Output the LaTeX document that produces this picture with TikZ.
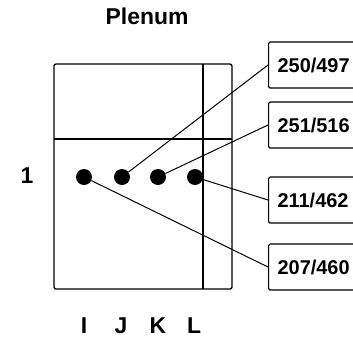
\documentclass[tikz,border=0pt]{standalone}
\usepackage{fontspec}
\setmainfont{Liberation Sans}
\usepackage{tikz}
\usetikzlibrary{positioning}

\begin{document}
\begin{tikzpicture}[
    x=1bp, y=-1bp,
    frame/.style={line width=1.3bp},
    dot/.style={
      circle, fill=black, inner sep=0pt, minimum size=16bp
    },
    valbox/.style={
      draw, line width=1.2bp, rounded corners=1.5pt, anchor=west,
      minimum height=46bp, text width=92bp, inner xsep=9bp,
      align=left, font=\fontsize{20}{22}\selectfont\bfseries
    },
    axislbl/.style={
      font=\fontsize{23}{26}\selectfont\bfseries
    },
    link/.style={line width=1bp}
  ]

    \useasboundingbox (0,0) rectangle (353,340);

    % Title
    \node[axislbl] (title) at (147,16) {Plenum};

    % Frame with plenum strip and column L
    \draw[frame, rounded corners=2pt] (54,64) rectangle (232,289);
    \draw[frame] (54,139) -- (232,139);
    \draw[frame] (203,64) -- (203,289);

    % Row label and column labels
    \node[axislbl] (row1) at (27,176) {1};
    \node[axislbl] (colI) at (84,326) {I};
    \node[axislbl] (colJ) at (121,326) {J};
    \node[axislbl] (colK) at (158,326) {K};
    \node[axislbl] (colL) at (194,326) {L};

    % Measuring points
    \node[dot] (pI) at (84,177) {};
    \node[dot] (pJ) at (122,177) {};
    \node[dot] (pK) at (158,177) {};
    \node[dot] (pL) at (195,177) {};

    % Value boxes (cut off at the right edge)
    \node[valbox] (vJ) at (268,65)  {250/497};
    \node[valbox] (vK) at (268,125) {251/516};
    \node[valbox] (vL) at (268,200) {211/462};
    \node[valbox] (vI) at (268,267) {207/460};

    % Leaders
    \draw[link] (pJ) -- (vJ.west);
    \draw[link] (pK) -- (vK.west);
    \draw[link] (pL) -- (vL.west);
    \draw[link] (pI) -- (vI.west);

  \end{tikzpicture}
\end{document}
